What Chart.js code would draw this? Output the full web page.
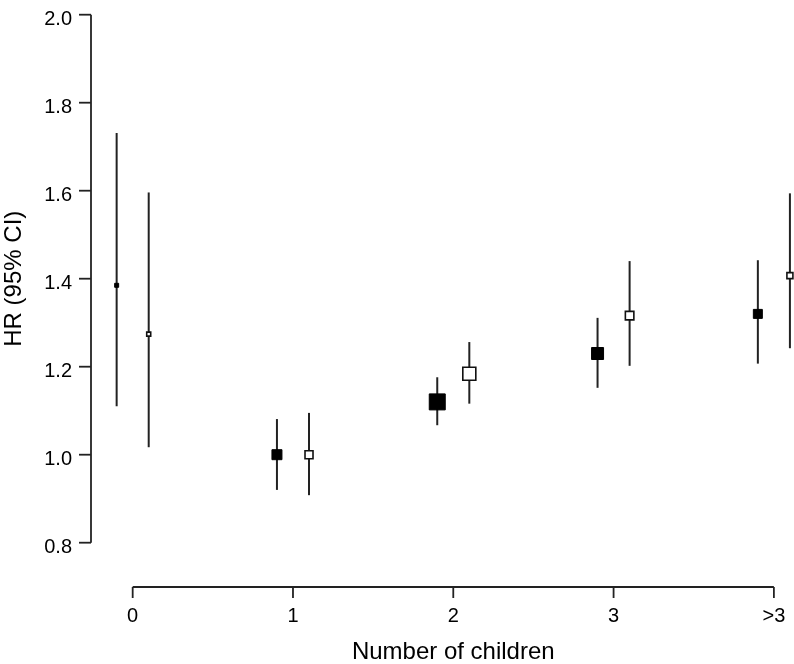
<!DOCTYPE html>
<html>
<head>
<meta charset="utf-8">
<script src="https://cdn.jsdelivr.net/npm/chart.js@4/dist/chart.umd.min.js"></script>
<style>
  body { margin: 0; background: #fff; }
  #graph { display: block; }
</style>
</head>
<body>
<canvas id="graph" width="794" height="664"></canvas>
<script>
const categories = ['0', '1', '2', '3', '>3']
const yTicks = [0.8, 1.0, 1.2, 1.4, 1.6, 1.8, 2.0]
const yTickLabels = ['0.8', '1.0', '1.2', '1.4', '1.6', '1.8', '2.0']

const filledHR = [1.385, 1.0, 1.12, 1.23, 1.32]
const filledLow = [1.11, 0.92, 1.067, 1.152, 1.207]
const filledHigh = [1.731, 1.081, 1.176, 1.311, 1.442]

const openHR = [1.274, 1.0, 1.184, 1.316, 1.407]
const openLow = [1.017, 0.908, 1.116, 1.202, 1.242]
const openHigh = [1.596, 1.095, 1.256, 1.44, 1.594]

// marker side lengths in px (box size)
const filledBox = [5, 11, 17, 13, 10]
const openBox = [5, 9, 14, 9.5, 7]

const shift = 0.1
const lineColor = '#222'
const tickFont = '20px "Liberation Sans", Arial, sans-serif'
const titleFont = '24px "Liberation Sans", Arial, sans-serif'

function buildPoints(values, low, high, side){
    let points = []
    for(let i = 0; i < values.length; i++){
        points.push({ x: i + side * shift, y: values[i], low: low[i], high: high[i] })
    }
    return points
}

function boxRadius(sizes){
    return sizes.map(s => (s - 1) / Math.SQRT2)
}

const errorBars = {
    id: 'errorBars',
    beforeDatasetsDraw(chart){
        const ctx = chart.ctx
        const xs = chart.scales.x
        const ys = chart.scales.y
        ctx.save()
        ctx.strokeStyle = lineColor
        ctx.lineWidth = 2
        for(let ds of chart.data.datasets){
            for(let p of ds.data){
                const px = xs.getPixelForValue(p.x)
                ctx.beginPath()
                ctx.moveTo(px, ys.getPixelForValue(p.high))
                ctx.lineTo(px, ys.getPixelForValue(p.low))
                ctx.stroke()
            }
        }
        ctx.restore()
    }
}

const rAxes = {
    id: 'rAxes',
    afterDraw(chart){
        const ctx = chart.ctx
        const xs = chart.scales.x
        const ys = chart.scales.y
        const axisX = 91
        const axisY = 587
        ctx.save()
        ctx.strokeStyle = lineColor
        ctx.lineWidth = 1.8
        ctx.fillStyle = '#000'

        // y axis
        ctx.beginPath()
        ctx.moveTo(axisX, ys.getPixelForValue(yTicks[0]))
        ctx.lineTo(axisX, ys.getPixelForValue(yTicks[yTicks.length - 1]))
        ctx.stroke()
        ctx.font = tickFont
        ctx.textAlign = 'right'
        ctx.textBaseline = 'alphabetic'
        for(let i = 0; i < yTicks.length; i++){
            const py = ys.getPixelForValue(yTicks[i])
            ctx.beginPath()
            ctx.moveTo(axisX - 12, py)
            ctx.lineTo(axisX, py)
            ctx.stroke()
            ctx.fillText(yTickLabels[i], 72, py + 10)
        }

        // x axis
        ctx.beginPath()
        ctx.moveTo(xs.getPixelForValue(0), axisY)
        ctx.lineTo(xs.getPixelForValue(categories.length - 1), axisY)
        ctx.stroke()
        ctx.textAlign = 'center'
        for(let i = 0; i < categories.length; i++){
            const px = xs.getPixelForValue(i)
            ctx.beginPath()
            ctx.moveTo(px, axisY)
            ctx.lineTo(px, axisY + 11)
            ctx.stroke()
            ctx.fillText(categories[i], px, 622)
        }

        // titles
        ctx.font = titleFont
        ctx.fillText('Number of children', (xs.getPixelForValue(0) + xs.getPixelForValue(4)) / 2, 659)
        ctx.translate(21, (ys.getPixelForValue(0.8) + ys.getPixelForValue(2.0)) / 2)
        ctx.rotate(-Math.PI / 2)
        ctx.fillText('HR (95% CI)', 0, 0)
        ctx.restore()
    }
}

function setGraph(){
    const ctx = document.getElementById('graph').getContext('2d')
    const structGraph = {
        type: 'scatter',
        data: {
            datasets: [{
                label: 'filled',
                data: buildPoints(filledHR, filledLow, filledHigh, -1),
                pointStyle: 'rect',
                pointRadius: boxRadius(filledBox),
                backgroundColor: '#000',
                borderColor: '#000',
                borderWidth: 1,
                clip: false
            }, {
                label: 'open',
                data: buildPoints(openHR, openLow, openHigh, 1),
                pointStyle: 'rect',
                pointRadius: boxRadius(openBox),
                backgroundColor: '#fff',
                borderColor: '#111',
                borderWidth: 1.6,
                clip: false
            }]
        },
        options: {
            responsive: false,
            animation: false,
            devicePixelRatio: 1,
            layout: { autoPadding: false, padding: { left: 91, right: 0, top: 14.7, bottom: 121.3 } },
            plugins: { legend: { display: false }, tooltip: { enabled: false } },
            scales: {
                x: { type: 'linear', min: -0.26, max: 4.1255, display: false },
                y: { type: 'linear', min: 0.8, max: 2.0, display: false }
            }
        },
        plugins: [errorBars, rAxes]
    }
    new Chart(ctx, structGraph)
}

setGraph()
</script>
</body>
</html>
